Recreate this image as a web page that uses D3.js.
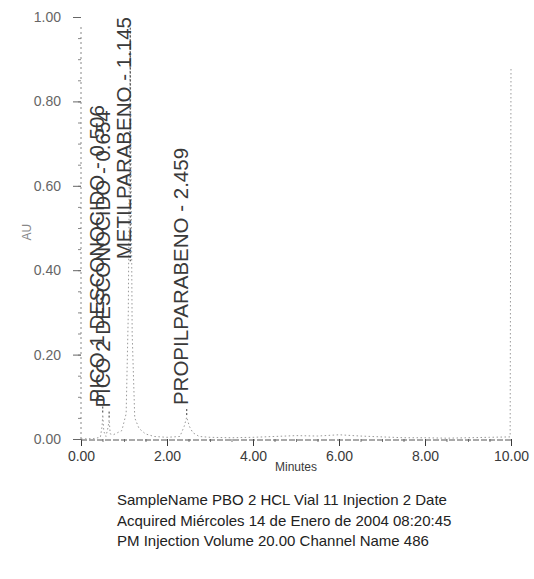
<!DOCTYPE html>
<html>
<head>
<meta charset="utf-8">
<script src="https://cdn.jsdelivr.net/npm/d3@7"></script>
<style>
	body { margin: 0; background: #fff; }
	svg { display: block; font-family: "Liberation Sans", Arial, sans-serif; }
</style>
</head>
<body>
<svg id="chart" width="534" height="579"></svg>
<script>
// chromatogram trace (minutes, AU)
const traceTime = [0, 0.3, 0.45, 0.49, 0.506, 0.53, 0.58, 0.63, 0.654, 0.68, 0.75, 0.85, 0.95, 1.05, 1.1, 1.145, 1.19, 1.25, 1.35, 1.5, 1.7, 2.0, 2.3, 2.4, 2.459, 2.52, 2.6, 2.75, 3.0, 3.5, 4.0, 4.5, 5.0, 5.5, 6.0, 6.5, 7.0, 7.5, 8.0, 8.5, 9.0, 9.5, 9.98, 10.0];
const traceAU = [0.000, 0.001, 0.004, 0.03, 0.058, 0.018, 0.006, 0.028, 0.046, 0.012, 0.01, 0.015, 0.02, 0.06, 0.3, 0.97, 0.25, 0.05, 0.025, 0.012, 0.006, 0.004, 0.006, 0.03, 0.052, 0.03, 0.015, 0.006, 0.004, 0.003, 0.004, 0.006, 0.008, 0.007, 0.01, 0.007, 0.005, 0.003, 0.003, 0.002, 0.003, 0.004, 0.005, 0.88];

// labelled peaks
const peakNames = ["PICO 1 DESCONOCIDO", "PICO 2 DESCONOCIDO", "METILPARABENO", "PROPILPARABENO"];
const peakTimes = [0.506, 0.654, 1.145, 2.459];
const peakAU = [0.058, 0.046, 0.97, 0.052];

const xTicks = [0, 2, 4, 6, 8, 10];
const yTicks = [0, 0.2, 0.4, 0.6, 0.8, 1.0];

const footerLines = [
	"SampleName PBO 2 HCL Vial 11 Injection 2 Date",
	"Acquired Miércoles 14 de Enero de 2004 08:20:45",
	"PM Injection Volume 20.00 Channel Name 486"
];

var svg = d3.select("#chart");

var x = d3.scaleLinear().domain([0, 10]).range([81, 511]);
var y = d3.scaleLinear().domain([0, 1]).range([439, 17]);

var ink = "#3a3a3a";

// x axis, minor ticks every 0.5 min
var gx = svg.append("g").attr("transform", "translate(0," + y(0) + ")");
gx.call(d3.axisBottom(x).tickValues(d3.range(0, 10.01, 0.5)).tickSize(3).tickFormat(""));
gx.selectAll(".tick line").attr("stroke", "#777");
var gx2 = svg.append("g").attr("transform", "translate(0," + y(0) + ")");
gx2.call(d3.axisBottom(x).tickValues(xTicks).tickSize(7).tickPadding(5).tickFormat(d3.format(".2f")));
gx2.selectAll("text").attr("font-size", 14).attr("fill", ink).attr("font-family", "Liberation Sans, Arial");
gx2.selectAll(".tick line").attr("stroke", ink);
svg.selectAll(".domain").remove();

// y axis
var gy = svg.append("g").attr("transform", "translate(" + x(0) + ",0)");
gy.call(d3.axisLeft(y).tickValues(d3.range(0, 1.001, 0.05)).tickSize(3).tickFormat(""));
gy.selectAll(".tick line").attr("stroke", "#888");
var gy2 = svg.append("g").attr("transform", "translate(" + x(0) + ",0)");
gy2.call(d3.axisLeft(y).tickValues(yTicks).tickSize(8).tickPadding(12).tickFormat(d3.format(".2f")));
gy2.selectAll("text").attr("font-size", 14).attr("fill", "#666").attr("font-family", "Liberation Sans, Arial");
gy2.selectAll(".tick line").attr("stroke", "#666");
svg.selectAll(".domain").remove();

svg.append("line")
	.attr("x1", x(0)).attr("x2", x(0))
	.attr("y1", y(0)).attr("y2", y(0.98))
	.attr("stroke", "#888").attr("stroke-dasharray", "2,3");
svg.append("line")
	.attr("x1", x(0)).attr("x2", x(10))
	.attr("y1", y(0) + 1).attr("y2", y(0) + 1)
	.attr("stroke", "#555").attr("stroke-dasharray", "6,2");

// trace
var trace = traceTime.map((t, i) => [t, traceAU[i]]);
svg.append("path")
	.datum(trace)
	.attr("d", d3.line().x(d => x(d[0])).y(d => y(d[1])))
	.attr("fill", "none")
	.attr("stroke", "#9a9a9a")
	.attr("stroke-width", 1)
	.attr("stroke-dasharray", "1.5,2.5");

// peak labels, pushed down when they would leave the plot
var labels = svg.append("g");
peakNames.forEach(function(name, i) {
	var px = x(peakTimes[i]);
	var t = labels.append("text")
		.text(name + " - " + peakTimes[i].toFixed(3))
		.attr("font-size", 20.5)
		.attr("fill", ink);
	var len = t.node().getComputedTextLength();
	var start = y(peakAU[i]) - 12;
	if (start - len < y(1)) start = y(1) + len;
	t.attr("transform", "translate(" + (px + 1) + "," + start + ") rotate(-90)");
	labels.append("line")
		.attr("x1", px).attr("x2", px)
		.attr("y1", Math.min(y(peakAU[i]) - 2, start + 12)).attr("y2", start + 2)
		.attr("stroke", ink).attr("stroke-dasharray", "2,2");
});

// axis titles
svg.append("text")
	.attr("x", x(5)).attr("y", 471)
	.attr("text-anchor", "middle")
	.attr("font-size", 12).attr("fill", ink)
	.text("Minutes");
svg.append("text")
	.attr("transform", "translate(31," + y(0.49) + ") rotate(-90)")
	.attr("text-anchor", "middle")
	.attr("font-size", 12).attr("fill", "#888")
	.text("AU");

// footer
svg.append("g").selectAll("text")
	.data(footerLines)
	.enter()
	.append("text")
	.attr("x", 117)
	.attr("y", (d, i) => 505 + i * 20.5)
	.attr("font-size", 15)
	.attr("fill", "#222")
	.text(d => d);
</script>
</body>
</html>
